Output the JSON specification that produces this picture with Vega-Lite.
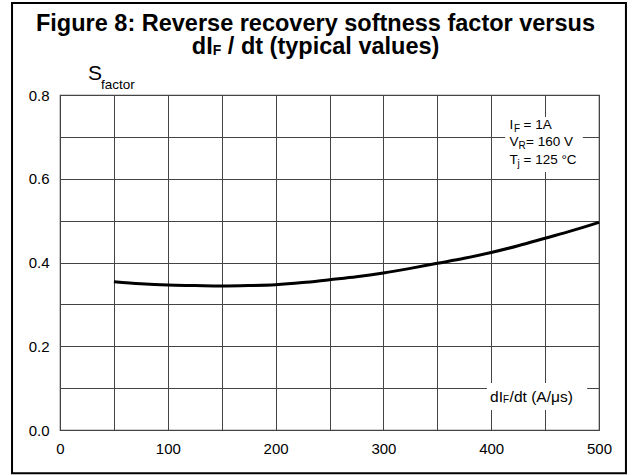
{
  "$schema": "https://vega.github.io/schema/vega-lite/v6.json",
  "width": 539,
  "height": 335,
  "autosize": "none",
  "padding": {"left": 60, "top": 95, "right": 33, "bottom": 45},
  "background": "white",
  "config": {
    "font": "Liberation Sans",
    "view": {"stroke": "#444", "strokeWidth": 1.2},
    "axis": {"labelFont": "Liberation Sans", "labelColor": "black"},
    "text": {"font": "Liberation Sans", "color": "black"}
  },
  "datasets": {
    "curve": [
      {"didt": 50, "s": 0.354},
      {"didt": 75, "s": 0.349},
      {"didt": 100, "s": 0.346},
      {"didt": 125, "s": 0.345},
      {"didt": 150, "s": 0.344},
      {"didt": 175, "s": 0.345},
      {"didt": 200, "s": 0.347},
      {"didt": 225, "s": 0.352},
      {"didt": 250, "s": 0.359},
      {"didt": 275, "s": 0.366},
      {"didt": 300, "s": 0.375},
      {"didt": 325, "s": 0.386},
      {"didt": 350, "s": 0.398},
      {"didt": 375, "s": 0.41},
      {"didt": 400, "s": 0.424},
      {"didt": 425, "s": 0.44},
      {"didt": 450, "s": 0.458},
      {"didt": 475, "s": 0.476},
      {"didt": 500, "s": 0.496}
    ],
    "one": [{}]
  },
  "layer": [
    {
      "data": {"name": "one"},
      "mark": {"type": "rect", "fill": null, "stroke": "black", "strokeWidth": 2, "clip": false},
      "encoding": {
        "x": {"datum": -44.5, "type": "quantitative", "scale": {"domain": [0, 500], "nice": false}},
        "x2": {"datum": 525},
        "y": {"datum": 1.02, "type": "quantitative", "scale": {"domain": [0, 0.8], "nice": false}},
        "y2": {"datum": -0.103}
      }
    },
    {
      "data": {"name": "curve"},
      "mark": {"type": "line", "color": "black", "strokeWidth": 3, "interpolate": "monotone"},
      "encoding": {
        "x": {
          "field": "didt",
          "type": "quantitative",
          "scale": {"domain": [0, 500], "nice": false},
          "axis": {
            "title": null,
            "values": [0, 50, 100, 150, 200, 250, 300, 350, 400, 450, 500],
            "labelExpr": "datum.value % 100 === 0 ? datum.label : ''",
            "grid": true,
            "gridColor": "#444",
            "gridOpacity": 1,
            "gridWidth": 1,
            "domain": false,
            "ticks": false,
            "labelFontSize": 15,
            "labelPadding": 11,
            "labelFlush": false
          }
        },
        "y": {
          "field": "s",
          "type": "quantitative",
          "scale": {"domain": [0, 0.8], "nice": false},
          "axis": {
            "title": null,
            "values": [0, 0.1, 0.2, 0.3, 0.4, 0.5, 0.6, 0.7, 0.8],
            "labelExpr": "(round(datum.value * 10) % 2 === 0) ? format(datum.value, '.1f') : ''",
            "grid": true,
            "gridColor": "#444",
            "gridOpacity": 1,
            "gridWidth": 1,
            "domain": false,
            "ticks": false,
            "labelFontSize": 15,
            "labelPadding": 11,
            "labelFlush": false
          }
        }
      }
    },
    {
      "data": {"name": "one"},
      "mark": {"type": "rect", "fill": "white", "stroke": null},
      "encoding": {
        "x": {"datum": 413, "type": "quantitative"},
        "x2": {"datum": 485},
        "y": {"datum": 0.7475, "type": "quantitative"},
        "y2": {"datum": 0.616}
      }
    },
    {
      "data": {"name": "one"},
      "mark": {"type": "rect", "fill": "white", "stroke": null},
      "encoding": {
        "x": {"datum": 396, "type": "quantitative"},
        "x2": {"datum": 489},
        "y": {"datum": 0.112, "type": "quantitative"},
        "y2": {"datum": 0.048}
      }
    },
    {
      "data": {"name": "one"},
      "mark": {"type": "text", "text": "Figure 8: Reverse recovery softness factor versus", "align": "center", "baseline": "alphabetic", "fontSize": 23.5, "fontWeight": "bold"},
      "encoding": {"x": {"datum": 237, "type": "quantitative"}, "y": {"datum": 0.954, "type": "quantitative"}}
    },
    {
      "data": {"name": "one"},
      "mark": {"type": "text", "text": "dI", "align": "left", "baseline": "alphabetic", "fontSize": 23.5, "fontWeight": "bold"},
      "encoding": {"x": {"datum": 122.3, "type": "quantitative"}, "y": {"datum": 0.897, "type": "quantitative"}}
    },
    {
      "data": {"name": "one"},
      "mark": {"type": "text", "text": "F", "align": "left", "baseline": "alphabetic", "fontSize": 14, "fontWeight": "bold", "dx": 21, "dy": 1},
      "encoding": {"x": {"datum": 122.3, "type": "quantitative"}, "y": {"datum": 0.897, "type": "quantitative"}}
    },
    {
      "data": {"name": "one"},
      "mark": {"type": "text", "text": "/ dt (typical values)", "align": "left", "baseline": "alphabetic", "fontSize": 23.5, "fontWeight": "bold", "dx": 36},
      "encoding": {"x": {"datum": 122.3, "type": "quantitative"}, "y": {"datum": 0.897, "type": "quantitative"}}
    },
    {
      "data": {"name": "one"},
      "mark": {"type": "text", "text": "I", "align": "left", "baseline": "middle", "fontSize": 13.5},
      "encoding": {"x": {"datum": 417, "type": "quantitative"}, "y": {"datum": 0.728, "type": "quantitative"}}
    },
    {
      "data": {"name": "one"},
      "mark": {"type": "text", "text": "F", "align": "left", "baseline": "middle", "fontSize": 10, "dx": 4.5, "dy": 4},
      "encoding": {"x": {"datum": 417, "type": "quantitative"}, "y": {"datum": 0.728, "type": "quantitative"}}
    },
    {
      "data": {"name": "one"},
      "mark": {"type": "text", "text": "= 1A", "align": "left", "baseline": "middle", "fontSize": 13.5, "dx": 14},
      "encoding": {"x": {"datum": 417, "type": "quantitative"}, "y": {"datum": 0.728, "type": "quantitative"}}
    },
    {
      "data": {"name": "one"},
      "mark": {"type": "text", "text": "V", "align": "left", "baseline": "middle", "fontSize": 13.5},
      "encoding": {"x": {"datum": 417, "type": "quantitative"}, "y": {"datum": 0.688, "type": "quantitative"}}
    },
    {
      "data": {"name": "one"},
      "mark": {"type": "text", "text": "R", "align": "left", "baseline": "middle", "fontSize": 10, "dx": 9, "dy": 4},
      "encoding": {"x": {"datum": 417, "type": "quantitative"}, "y": {"datum": 0.688, "type": "quantitative"}}
    },
    {
      "data": {"name": "one"},
      "mark": {"type": "text", "text": "= 160 V", "align": "left", "baseline": "middle", "fontSize": 13.5, "dx": 16.5},
      "encoding": {"x": {"datum": 417, "type": "quantitative"}, "y": {"datum": 0.688, "type": "quantitative"}}
    },
    {
      "data": {"name": "one"},
      "mark": {"type": "text", "text": "T", "align": "left", "baseline": "middle", "fontSize": 13.5},
      "encoding": {"x": {"datum": 417, "type": "quantitative"}, "y": {"datum": 0.645, "type": "quantitative"}}
    },
    {
      "data": {"name": "one"},
      "mark": {"type": "text", "text": "j", "align": "left", "baseline": "middle", "fontSize": 10, "dx": 8, "dy": 4},
      "encoding": {"x": {"datum": 417, "type": "quantitative"}, "y": {"datum": 0.645, "type": "quantitative"}}
    },
    {
      "data": {"name": "one"},
      "mark": {"type": "text", "text": "= 125 °C", "align": "left", "baseline": "middle", "fontSize": 13.5, "dx": 14},
      "encoding": {"x": {"datum": 417, "type": "quantitative"}, "y": {"datum": 0.645, "type": "quantitative"}}
    },
    {
      "data": {"name": "one"},
      "mark": {"type": "text", "text": "dI", "align": "left", "baseline": "middle", "fontSize": 15.5},
      "encoding": {"x": {"datum": 399, "type": "quantitative"}, "y": {"datum": 0.0795, "type": "quantitative"}}
    },
    {
      "data": {"name": "one"},
      "mark": {"type": "text", "text": "F", "align": "left", "baseline": "middle", "fontSize": 10, "dx": 13, "dy": 3},
      "encoding": {"x": {"datum": 399, "type": "quantitative"}, "y": {"datum": 0.0795, "type": "quantitative"}}
    },
    {
      "data": {"name": "one"},
      "mark": {"type": "text", "text": "/dt (A/μs)", "align": "left", "baseline": "middle", "fontSize": 15.5, "dx": 19.5},
      "encoding": {"x": {"datum": 399, "type": "quantitative"}, "y": {"datum": 0.0795, "type": "quantitative"}}
    },
    {
      "data": {"name": "one"},
      "mark": {"type": "text", "text": "S", "align": "left", "baseline": "alphabetic", "fontSize": 21},
      "encoding": {"x": {"datum": 26, "type": "quantitative"}, "y": {"datum": 0.836, "type": "quantitative"}}
    },
    {
      "data": {"name": "one"},
      "mark": {"type": "text", "text": "factor", "align": "left", "baseline": "alphabetic", "fontSize": 13.5},
      "encoding": {"x": {"datum": 38, "type": "quantitative"}, "y": {"datum": 0.814, "type": "quantitative"}}
    }
  ]
}
